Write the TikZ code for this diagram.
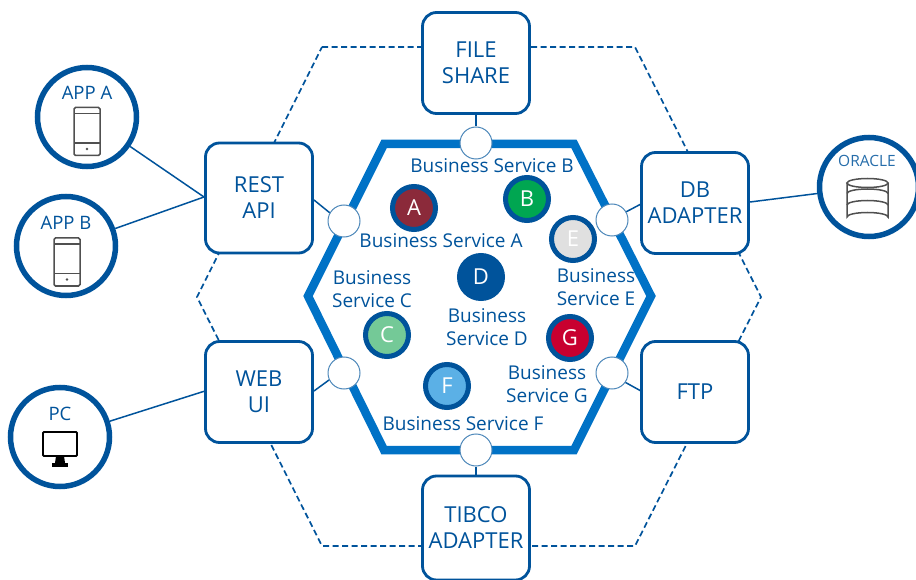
\documentclass[tikz,border=0pt]{standalone}
\usepackage{fontspec}
\setmainfont{Open Sans}
\usetikzlibrary{calc}

\definecolor{navy}{HTML}{00539B}
\definecolor{hexblue}{HTML}{0072C6}
\definecolor{icongray}{HTML}{505050}

\tikzset{
  adapter/.style={draw=navy, line width=2.8pt, fill=white, rounded corners=14pt, minimum width=107pt, minimum height=101pt, text=navy, align=center, font=\fontsize{22}{26}\selectfont},
  client/.style={draw=navy, line width=5.5pt, fill=white, circle, minimum size=99pt},
  clientlabel/.style={text=navy, inner sep=0pt, font=\fontsize{18.5}{20}\selectfont},
  port/.style={draw=navy!70, line width=1pt, fill=white, circle, minimum size=32pt, inner sep=0pt},
  service/.style={draw=navy, line width=5pt, circle, minimum size=43pt, inner sep=0pt, text=white, font=\fontsize{22}{22}\selectfont},
  servicelabel/.style={text=navy, align=center, inner sep=0pt, font=\fontsize{19}{23}\selectfont},
  wire/.style={draw=navy, line width=1.5pt},
  icon/.style={draw=icongray, line width=1.5pt, rounded corners=1.5pt}
}

\newcommand{\phoneicon}[2]{
  \draw[icon] (#1-13,#2-24) rectangle (#1+13,#2+24);
  \draw[icongray, line width=1.2pt] (#1-13,#2-18) -- (#1+13,#2-18);
  \draw[icongray, line width=1.2pt] (#1-13,#2+11.5) -- (#1+13,#2+11.5);
  \fill[icongray] (#1,#2+17.5) circle (1.4pt);
}

\begin{document}
\begin{tikzpicture}[x=1pt, y=-1pt]
\useasboundingbox (0,0) rectangle (916,580);

% outer dashed hexagon
\draw[navy, line width=1.7pt, dash pattern=on 6pt off 3.5pt] (322,47) -- (635,47) -- (761,297) -- (635,546) -- (322,546) -- (197,297) -- cycle;
% inner hexagon
\draw[hexblue, line width=8.5pt, miter limit=4] (384,144) -- (574,144) -- (651,296) -- (574,450) -- (384,450) -- (308,296) -- cycle;

\coordinate (restin) at (204,197);
\coordinate (restout) at (314,200);
\coordinate (webin) at (205,391);
\coordinate (webout) at (314,391);
\coordinate (dbin) at (641,204);
\coordinate (dbout) at (750,202);
\coordinate (ftpin) at (641,391);

% adapters
\node[adapter, minimum height=110pt] (rest) at (259,198) {REST\\API};
\node[adapter] (fileshare) at (476,63) {FILE\\SHARE};
\node[adapter] (db) at (695,203) {DB\\ADAPTER};
\node[adapter] (web) at (259,392) {WEB\\UI};
\node[adapter] (ftp) at (695,392) {FTP};
\node[adapter, minimum height=104pt] (tibco) at (476,528) {TIBCO\\ADAPTER};

% ports
\node[port] (porttop) at (476,143) {};
\node[port] (portrest) at (344,221) {};
\node[port] (portdb) at (612,220) {};
\node[port] (portweb) at (344,373) {};
\node[port] (portftp) at (612,373) {};
\node[port] (portbottom) at (476,450) {};

% clients
\node[client] (appa) at (87,117) {};
\node[client] (appb) at (66,246) {};
\node[client] (pc) at (60,437) {};
\node[client] (oracle) at (869,187) {};

\node[clientlabel] (appalabel) at (87,93) {APP A};
\node[clientlabel] (appblabel) at (66,223) {APP B};
\node[clientlabel] (pclabel) at (60,414) {PC};
\node[clientlabel, font=\fontsize{15.5}{16}\selectfont, text=navy!85] (oraclelabel) at (867,161) {ORACLE};

% wires
\draw[wire] (appa) -- (restin);
\draw[wire] (appb) -- (restin);
\draw[wire] (pc) -- (webin);
\draw[wire] (dbout) -- (oracle);
\draw[wire] (fileshare) -- (porttop);
\draw[wire] (restout) -- (portrest.150);
\draw[wire] (dbin) -- (portdb.30);
\draw[wire] (webout) -- (portweb.205);
\draw[wire] (ftpin) -- (portftp.325);
\draw[wire] (tibco) -- (portbottom);

% services
\node[service, fill={rgb,255:red,139;green,42;blue,58}] (sa) at (414,208) {A};
\node[service, fill={rgb,255:red,0;green,166;blue,81}] (sb) at (527,199) {B};
\node[service, fill={rgb,255:red,224;green,224;blue,224}] (se) at (573,239) {E};
\node[service, fill=navy] (sd) at (481,277) {D};
\node[service, fill={rgb,255:red,116;green,201;blue,151}] (sc) at (387,335) {C};
\node[service, fill={rgb,255:red,200;green,0;blue,47}] (sg) at (570,338) {G};
\node[service, fill={rgb,255:red,91;green,176;blue,230}] (sf) at (447,386) {F};

\node[servicelabel] (la) at (441,241) {Business Service A};
\node[servicelabel] (lb) at (492,166) {Business Service B};
\node[servicelabel] (lc) at (372,289) {Business\\Service C};
\node[servicelabel] (ld) at (487,327) {Business\\Service D};
\node[servicelabel] (le) at (596,287) {Business\\Service E};
\node[servicelabel] (lf) at (463,424) {Business Service F};
\node[servicelabel] (lg) at (547,384) {Business\\Service G};

% icons
\phoneicon{87}{131.5}
\phoneicon{67}{262}

\draw[black, line width=1.8pt, rounded corners=1pt, fill=white] (43,432) rectangle (77,456);
\fill[black] (56,456) -- (64,456) -- (65,463) -- (55,463) -- cycle;
\fill[black] (52,463) rectangle (68,467);

\draw[icon, rounded corners=0pt] (847,183) -- (847,217) arc[start angle=180, end angle=360, x radius=20.5, y radius=4.5] -- (888,183);
\draw[icon, rounded corners=0pt] (867.5,183) ellipse[x radius=20.5, y radius=4.5];
\draw[icon, rounded corners=0pt] (847,193.5) arc[start angle=180, end angle=360, x radius=20.5, y radius=4.5];
\draw[icon, rounded corners=0pt] (847,205) arc[start angle=180, end angle=360, x radius=20.5, y radius=4.5];

\end{tikzpicture}
\end{document}
